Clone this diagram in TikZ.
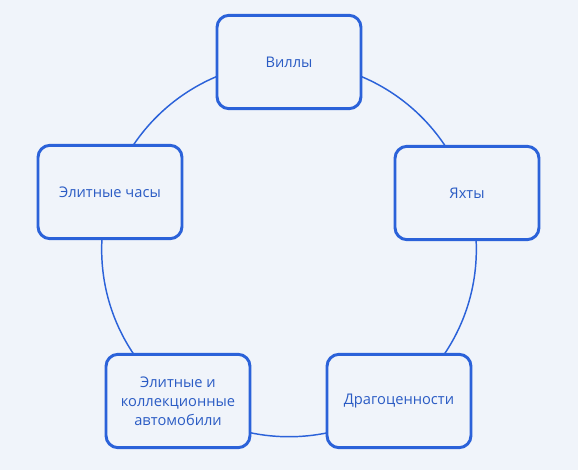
\documentclass[tikz,border=0pt]{standalone}
\usepackage{fontspec}
\setmainfont{Open Sans}
\usepackage{tikz}
\definecolor{bgcol}{HTML}{F0F4FA}
\definecolor{boxblue}{HTML}{2B62D9}
\definecolor{textblue}{HTML}{2A5BC4}
\begin{document}
\begin{tikzpicture}[x=0.75pt, y=-0.75pt, every node/.style={rectangle, rounded corners=9pt, draw=boxblue, line width=2.2pt, fill=bgcol, text=textblue, minimum width=108pt, minimum height=70pt, align=center, font=\fontsize{11}{14.4}\selectfont}, ring/.style={draw=boxblue, line width=1.1pt}]
				\fill[bgcol] (0,0) rectangle (578,470);
				\useasboundingbox (0,0) rectangle (578,470);
				\draw[ring] (289,249.4) circle[radius=140.5pt];
				
				\node (villas) at (289,62){Виллы};
				\node (yachts) at (467,193){Яхты};
				\node (jewels) at (399,401){Драгоценности};
				\node (cars) at (178,401){Элитные и\\коллекционные\\автомобили};
				\node (watches) at (110,192){Элитные часы};
\end{tikzpicture}
\end{document}
